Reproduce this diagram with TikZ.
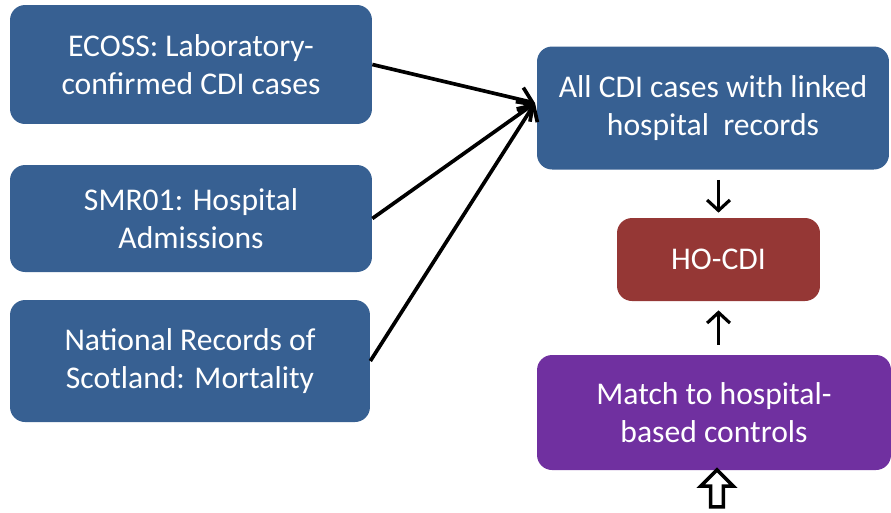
\documentclass[tikz,border=0pt]{standalone}
\usepackage{fontspec}
\setmainfont{Carlito}
\usetikzlibrary{shapes.arrows,arrows.meta}

\definecolor{srcblue}{HTML}{376092}
\definecolor{hored}{HTML}{953735}
\definecolor{ctrlpurple}{HTML}{7030A0}

\tikzset{
  flowbox/.style={rounded corners=0.3cm,text=white,align=center,inner sep=0pt,
    font=\fontsize{18}{21.6}\selectfont},
  linkarrow/.style={-{Straight Barb[length=7pt,width=14pt]},black,line width=2.1pt},
  stagearrow/.style={-{Straight Barb[length=6pt,width=13pt]},black,line width=1.8pt}
}

\begin{document}
\begin{tikzpicture}[x=0.02cm,y=-0.02cm]
      \useasboundingbox (0,0) rectangle (891,512);

      % data sources
      \node[flowbox,fill=srcblue,minimum width=7.24cm,minimum height=2.38cm] (ecoss) at (191,64.5) {ECOSS: Laboratory-\\confirmed CDI cases};
      \node[flowbox,fill=srcblue,minimum width=7.24cm,minimum height=2.14cm] (smr) at (191,218.5) {SMR01: Hospital\\Admissions};
      \node[flowbox,fill=srcblue,minimum width=7.2cm,minimum height=2.44cm] (nrs) at (190,361) {National Records of\\Scotland: Mortality};

      % right column
      \node[flowbox,fill=srcblue,minimum width=7.04cm,minimum height=2.46cm] (cases) at (713,108) {All CDI cases with linked\\hospital\ \ records};
      \node[flowbox,fill=hored,minimum width=4.06cm,minimum height=1.66cm] (hocdi) at (718.5,259.5) {HO-CDI};
      \node[flowbox,fill=ctrlpurple,minimum width=7.08cm,minimum height=2.3cm] (match) at (714,412.5) {Match to hospital-\\based controls};
      \node[single arrow,draw=black,fill=white,line width=2pt,rotate=90,
            minimum height=0.74cm,single arrow head extend=0.2cm,inner sep=2.6pt] (inflow) at (717,491.5) {};

      \coordinate (hub) at (535,103);

      \draw[linkarrow] (ecoss.east) -- (hub);
      \draw[linkarrow] (smr.east) -- (hub);
      \draw[linkarrow] (nrs.east) -- (hub);

      \draw[stagearrow,shorten <=0.2cm,shorten >=0.1cm] (hocdi.north |- cases.south) -- (hocdi.north);
      \draw[stagearrow,shorten <=0.2cm,shorten >=0.18cm] (hocdi.south |- match.north) -- (hocdi.south);
\end{tikzpicture}
\end{document}
